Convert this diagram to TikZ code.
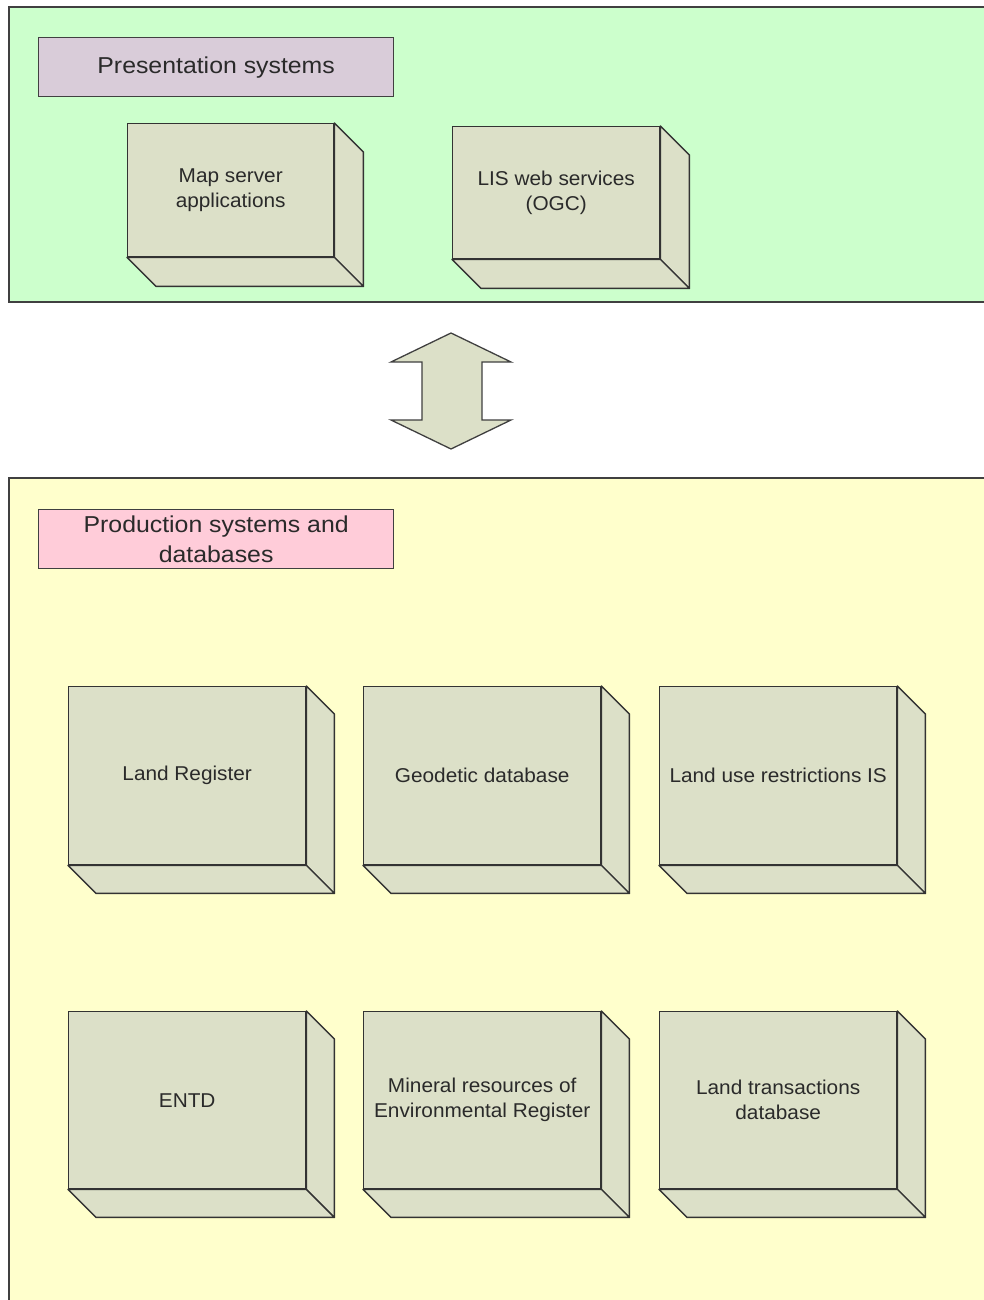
\documentclass[tikz,border=0pt]{standalone}
\usepackage{fontspec}
\setmainfont[FakeStretch=1.04]{Liberation Sans}
\newfontfamily\labelfont[FakeStretch=1.08]{Liberation Sans}
\usetikzlibrary{calc}
\definecolor{pgreen}{HTML}{CCFFCC}
\definecolor{pyellow}{HTML}{FFFFCC}
\definecolor{plav}{HTML}{D9CCD9}
\definecolor{ppink}{HTML}{FFCCD9}
\definecolor{boxfill}{HTML}{DCE0C8}
\definecolor{edge}{HTML}{404040}
\definecolor{txt}{HTML}{2A2A2A}
\tikzset{
  panel/.style={draw=edge, line width=1.3pt},
  titlebox/.style={draw=edge, line width=1.3pt, minimum width=355pt, minimum height=59pt,
     anchor=north west, inner sep=0pt, align=center, text=txt,
     font=\labelfont\fontsize{23}{30}\selectfont},
  front/.style={draw=black!80, fill=boxfill, line width=1.4pt, anchor=north west,
     inner sep=0pt, align=center, text=txt, font=\fontsize{20}{25}\selectfont},
  face/.style={draw=black!80, fill=boxfill, line width=1.4pt, line join=round},
  dblarrow/.style={draw=edge, fill=boxfill, line width=1.3pt, line join=miter}
}
\newcommand{\boxsides}[2]{%
  \draw[face] (#1.north east) -- ++(#2,#2) -- ($(#1.south east)+(#2,#2)$) -- (#1.south east) -- cycle;
  \draw[face] (#1.south west) -- ++(#2,#2) -- ($(#1.south east)+(#2,#2)$) -- (#1.south east) -- cycle;
}
\begin{document}
\begin{tikzpicture}[x=1pt,y=-1pt]
\useasboundingbox (0,0) rectangle (984,1300);
\fill[white] (0,0) rectangle (984,1300);
% panels
\draw[panel, fill=pgreen] (9,7) rectangle (1000,302);
\draw[panel, fill=pyellow] (9,478) rectangle (1000,1320);
% titles
\node[titlebox, fill=plav] (pres) at (38,37) {Presentation systems};
\node[titlebox, fill=ppink] (prod) at (38,509) {Production systems and\\databases};
% top boxes
\node[front, minimum width=206pt, minimum height=133pt] (map) at (127,123) {Map server\\applications};
\boxsides{map}{29}
\node[front, minimum width=207pt, minimum height=132pt] (lis) at (452,126) {LIS web services\\(OGC)};
\boxsides{lis}{29}
% double arrow
\draw[dblarrow] (451,333) -- (511,362) -- (482,362) -- (482,420) -- (511,420) -- (451,449)
  -- (391,420) -- (422,420) -- (422,362) -- (391,362) -- cycle;
% bottom boxes row 1
\node[front, minimum width=237pt, minimum height=178pt] (lr) at (68,686) {Land Register};
\boxsides{lr}{28}
\node[front, minimum width=237pt, minimum height=178pt] (geo) at (363,686) {Geodetic database};
\boxsides{geo}{28}
\node[front, minimum width=237pt, minimum height=178pt] (lur) at (659,686) {Land use restrictions IS};
\boxsides{lur}{28}
% row 2
\node[front, minimum width=237pt, minimum height=177pt] (entd) at (68,1011) {ENTD};
\boxsides{entd}{28}
\node[front, minimum width=237pt, minimum height=177pt] (min) at (363,1011) {Mineral resources of\\Environmental Register};
\boxsides{min}{28}
\node[front, minimum width=237pt, minimum height=177pt] (ltd) at (659,1011) {Land transactions\\database};
\boxsides{ltd}{28}
\end{tikzpicture}
\end{document}
